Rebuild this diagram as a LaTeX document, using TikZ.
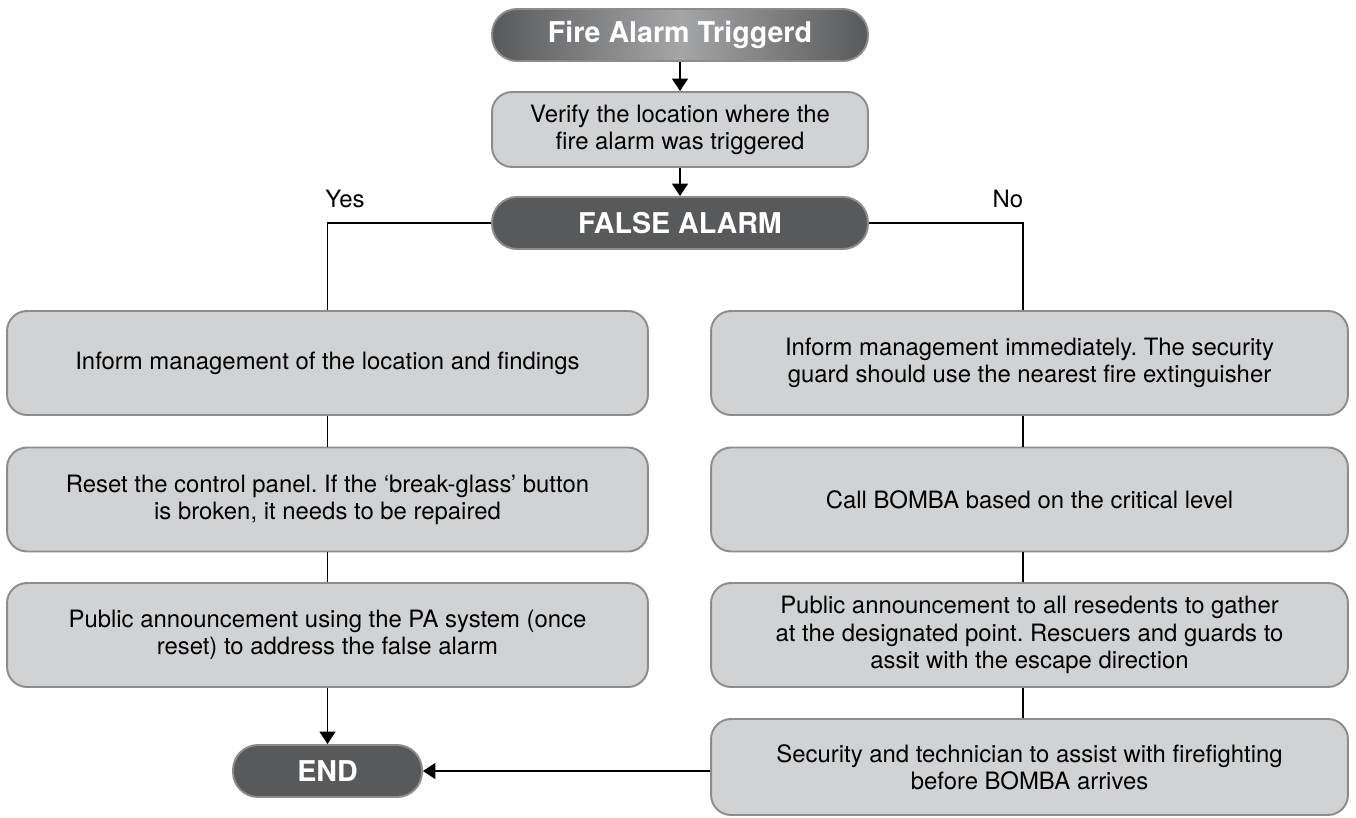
\documentclass[tikz,border=0pt]{standalone}
\usepackage{fontspec}
\setmainfont{TeX Gyre Heros}
\usetikzlibrary{positioning,arrows.meta}
\frenchspacing
\definecolor{boxgray}{HTML}{D1D2D4}
\definecolor{edgegray}{HTML}{8C8C8C}
\definecolor{termgray}{HTML}{58595B}
\definecolor{topmid}{HTML}{A4A5A7}
\tikzset{
  stepbox/.style={draw=edgegray,line width=1.1pt,fill=boxgray,rounded corners=0.4cm,
    align=center,minimum width=12.82cm,minimum height=2.08cm},
  term/.style={draw=edgegray,line width=1.1pt,fill=termgray,rounded corners=0.5cm,
    text=white,font=\bfseries\fontsize{16.3}{18}\selectfont,minimum height=1.04cm},
  link/.style={line width=0.8pt},
  arr/.style={link,-{Triangle[width=9pt,length=7pt]}}
}

\begin{document}
\begin{tikzpicture}[x=0.02cm,y=-0.02cm,font=\fontsize{13.6}{15.5}\selectfont]
\useasboundingbox (0,0) rectangle (1356,818);
% top of the chart
\node[term,minimum width=7.52cm,left color=termgray,right color=termgray,middle color=topmid] (fire) at (680,35) {Fire Alarm Triggerd};
\node[stepbox,minimum width=7.52cm,minimum height=1.5cm] (verify) at (680,129.5) {Verify the location where the\\fire alarm was triggered};
\node[term,minimum width=7.52cm] (false) at (680,223) {FALSE ALARM};
\node (yes) at (345,199) {Yes};
\node (no) at (1008,199) {No};
\coordinate (rline) at (1023,223);
% yes branch
\node[stepbox] (l1) at (327.5,363) {Inform management of the location and findings};
\node[stepbox] (l2) at (327.5,499.5) {Reset the control panel. If the `break-glass' button\\is broken, it needs to be repaired};
\node[stepbox] (l3) at (327.5,635) {Public announcement using the PA system (once\\reset) to address the false alarm};
\node[term,minimum width=3.78cm] (end) at (327.5,771) {END};
% no branch
\node[stepbox,minimum width=12.74cm] (r1) at (1029.5,363) {Inform management immediately. The security\\guard should use the nearest fire extinguisher};
\node[stepbox,minimum width=12.74cm] (r2) at (1029.5,499.5) {Call BOMBA based on the critical level};
\node[stepbox,minimum width=12.74cm] (r3) at (1029.5,635) {Public announcement to all resedents to gather\\at the designated point. Rescuers and guards to\\assit with the escape direction};
\node[stepbox,minimum width=12.74cm,minimum height=1.92cm] (r4) at (1029.5,767) {Security and technician to assist with firefighting\\before BOMBA arrives};
% connectors
\draw[arr] (fire) -- (verify);
\draw[arr] (verify) -- (false);
\draw[link] (false.west) -| (l1.north);
\draw[link] (false.east) -- (rline) -- (rline |- r1.north);
\foreach \a/\b in {l1/l2,l2/l3}
  \draw[link] (\a.south) -- (\b.north);
\foreach \a/\b in {r1/r2,r2/r3,r3/r4}
  \draw[link] (rline |- \a.south) -- (rline |- \b.north);
\draw[arr] (l3.south) -- (end.north);
\draw[arr] (r4.west |- end) -- (end.east);
\end{tikzpicture}
\end{document}
